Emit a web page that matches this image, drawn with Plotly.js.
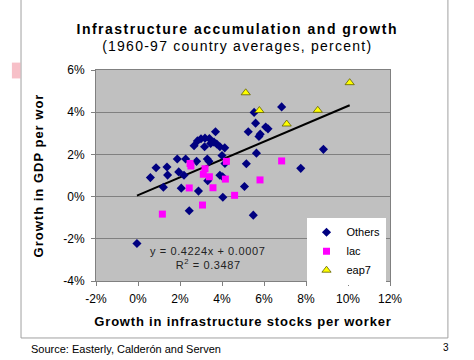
<!DOCTYPE html>
<html>
<head>
<meta charset="utf-8">
<script src="https://cdn.plot.ly/plotly-3.0.1.min.js"></script>
<style>
html,body{margin:0;padding:0;background:#fff;}
#chart{width:474px;height:360px;}
.annotation[data-index="0"] text{letter-spacing:1.5px;}
.annotation[data-index="1"] text{letter-spacing:1.25px;}
.xtitle{letter-spacing:0.8px;}
.ytitle{letter-spacing:1px;}
.annotation[data-index="2"] text,.annotation[data-index="3"] text{letter-spacing:0.6px;}
</style>
</head>
<body>
<div id="chart"></div>
<script>
// Growth in infrastructure stocks per worker (%), growth in GDP per worker (%)
var othersX = [6.84, 5.53, 5.60, 5.25, 6.08, 6.19, 5.82, 5.76, 5.64, 5.16, 5.07, 5.49, 8.83, 7.75,
  3.69, 2.67, 2.83, 3.00, 3.19, 3.40, 3.17, 3.46, 3.62, 3.75, 3.90, 4.13, 4.00, 3.30, 3.38,
  1.87, 2.27, 2.79, 0.86, 1.38, 1.41, 1.94, 2.19, 0.59, 1.21, 2.06, 2.88, 3.32, 3.90, 4.03,
  4.14, 4.04, 2.44, -0.05];
var othersY = [4.25, 3.99, 3.48, 3.07, 3.30, 3.21, 2.96, 2.85, 2.06, 1.56, 0.48, -0.88, 2.24, 1.34,
  3.07, 2.41, 2.64, 2.74, 2.77, 2.75, 2.36, 2.52, 2.58, 2.49, 2.36, 2.31, 1.95, 1.78, 1.67,
  1.78, 1.78, 1.67, 1.37, 1.40, 1.02, 1.17, 1.01, 0.90, 0.44, 0.40, 0.26, 0.75, 1.01, 0.94,
  1.57, -0.03, -0.67, -2.22];
var lacX = [2.48, 2.52, 3.19, 3.11, 3.40, 4.21, 4.16, 3.57, 2.44, 4.60, 3.07, 1.16, 5.81, 6.84];
var lacY = [1.57, 1.45, 1.32, 1.06, 0.94, 1.67, 0.83, 0.42, 0.41, 0.06, -0.40, -0.83, 0.79, 1.69];
var eap7X = [5.13, 5.78, 7.08, 8.56, 10.08];
var eap7Y = [4.92, 4.08, 3.44, 4.09, 5.40];
var seriesNames = ["Others", "lac", "eap7"];
var trendSlope = 0.4224, trendIntercept = 0.0007;   // fitted on fractions
var xTicks = [-2, 0, 2, 4, 6, 8, 10, 12];
var yTicks = [-4, -2, 0, 2, 4, 6];

var allX = othersX.concat(lacX, eap7X);
var xmin = Math.min.apply(null, allX), xmax = Math.max.apply(null, allX);
var trendX = [xmin, xmax];
var trendY = trendX.map(function (v) { return (trendSlope * v / 100 + trendIntercept) * 100; });

var F = "Arial, 'Liberation Sans', sans-serif";
var traces = [
  {x: trendX, y: trendY, mode: "lines", line: {color: "#000", width: 2}, showlegend: false, hoverinfo: "skip"},
  {x: othersX, y: othersY, mode: "markers", name: seriesNames[0],
   marker: {symbol: "diamond", size: 7, color: "#000080"}},
  {x: lacX, y: lacY, mode: "markers", name: seriesNames[1],
   marker: {symbol: "square", size: 7, color: "#ff00ff"}},
  {x: eap7X, y: eap7Y, mode: "markers", name: seriesNames[2],
   marker: {symbol: "triangle-up", size: 8, color: "#ffff00", line: {color: "#606000", width: 0.8}}}
];

var layout = {
  width: 474, height: 360,
  margin: {l: 96, r: 84, t: 70, b: 79},
  paper_bgcolor: "#fff", plot_bgcolor: "#c0c0c0",
  font: {family: F, color: "#000", size: 12},
  showlegend: true,
  legend: {x: 0.716, y: 0.30, xanchor: "left", yanchor: "top", bgcolor: "#fff",
           borderwidth: 0, font: {size: 11, family: F}, tracegroupgap: 0, itemwidth: 30},
  xaxis: {range: [-2, 12], tickvals: xTicks, ticktext: xTicks.map(function (v) { return v + "%"; }),
          showgrid: false, zeroline: false, showline: true, linecolor: "#808080", linewidth: 1,
          mirror: true, ticks: "outside", ticklen: 4, tickcolor: "#808080", ticklabelstandoff: 3,
          tickfont: {size: 12, family: F},
          title: {text: "<b>Growth in infrastructure stocks per worker</b>", font: {size: 13, family: F}, standoff: 11}},
  yaxis: {range: [-4, 6], tickvals: yTicks, ticktext: yTicks.map(function (v) { return v + "%"; }),
          showgrid: true, gridcolor: "#808080", gridwidth: 1, zeroline: false,
          showline: true, linecolor: "#808080", linewidth: 1, mirror: true,
          ticks: "outside", ticklen: 4, tickcolor: "#808080", ticklabelstandoff: 4,
          tickfont: {size: 12, family: F},
          title: {text: "<b>Growth in GDP per wor</b>", font: {size: 13, family: F}, standoff: 16}},
  annotations: [
    {text: "<b>Infrastructure accumulation and growth</b>", xref: "paper", yref: "paper",
     x: 0.48, y: 1.195, xanchor: "center", yanchor: "middle", showarrow: false, font: {size: 14, family: F}},
    {text: "(1960-97 country averages, percent)", xref: "paper", yref: "paper",
     x: 0.48, y: 1.115, xanchor: "center", yanchor: "middle", showarrow: false, font: {size: 14, family: F}},
    {text: "y = 0.4224x + 0.0007", xref: "paper", yref: "paper", x: 0.38, y: 0.143,
     xanchor: "center", yanchor: "middle", showarrow: false, font: {size: 11, family: F, color: "#222"}},
    {text: "R<sup>2</sup> = 0.3487", xref: "paper", yref: "paper", x: 0.38, y: 0.082,
     xanchor: "center", yanchor: "middle", showarrow: false, font: {size: 11, family: F, color: "#222"}},
    {text: "Source: Easterly, Calderón and Serven", xref: "paper", yref: "paper", x: -0.228, y: -0.32,
     xanchor: "left", yanchor: "middle", showarrow: false, font: {size: 11, family: F}},
    {text: "3", xref: "paper", yref: "paper", x: 1.19, y: -0.313,
     xanchor: "center", yanchor: "middle", showarrow: false, font: {size: 10, family: F}}
  ],
  shapes: [
    {type: "line", xref: "paper", yref: "paper", x0: -0.255, x1: -0.255, y0: -0.27, y1: 1.34,
     line: {color: "#a0a0a0", width: 1}},
    {type: "line", xref: "paper", yref: "paper", x0: 1.197, x1: 1.197, y0: -0.27, y1: 1.34,
     line: {color: "#a0a0a0", width: 1}},
    {type: "line", xref: "paper", yref: "paper", x0: -0.255, x1: 1.197, y0: -0.27, y1: -0.27,
     line: {color: "#a0a0a0", width: 1}},
    {type: "rect", xref: "paper", yref: "paper", x0: -0.286, x1: -0.257, y0: 1.035, y1: 0.96,
     fillcolor: "rgba(240,140,155,0.55)", line: {width: 0}}
  ]
};

Plotly.newPlot("chart", traces, layout, {staticPlot: true, displayModeBar: false});
</script>
</body>
</html>
